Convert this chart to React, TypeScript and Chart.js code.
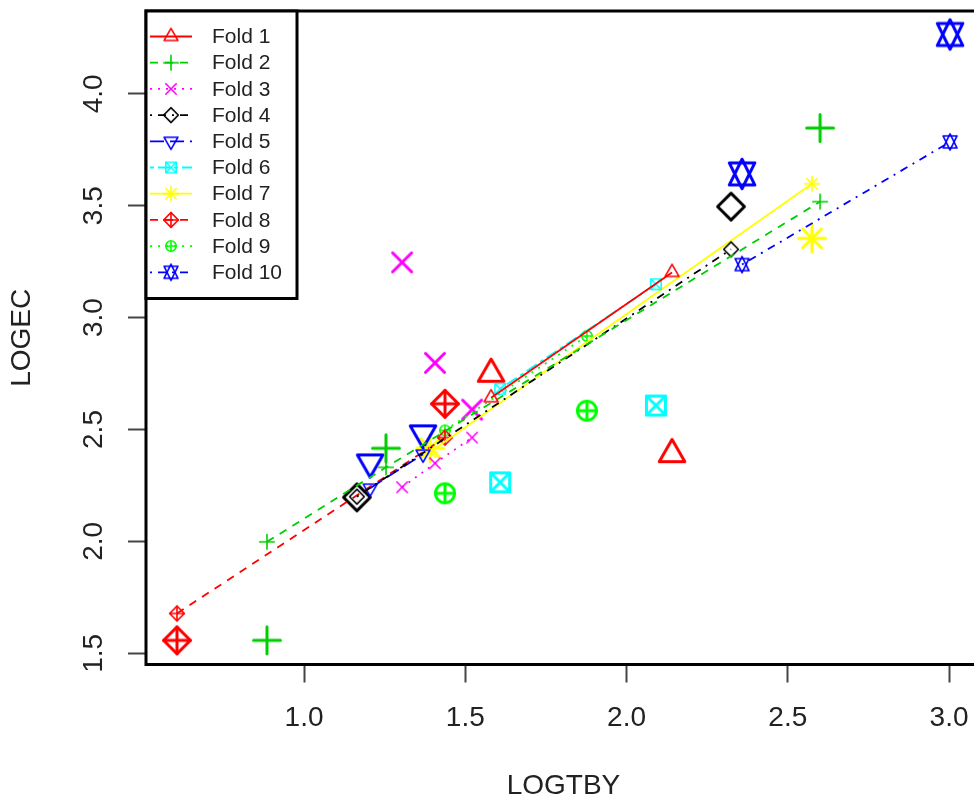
import React, { useEffect, useRef } from 'react';
import { Chart, registerables } from 'chart.js';

Chart.register(...registerables);

const FONT = '"Liberation Sans", Arial, Helvetica, sans-serif';

// ---- Data ----
const foldNames = ['Fold 1', 'Fold 2', 'Fold 3', 'Fold 4', 'Fold 5', 'Fold 6', 'Fold 7', 'Fold 8', 'Fold 9', 'Fold 10'];

// LOGTBY values of the points in each fold
const fold1X = [1.58, 2.141];
const fold2X = [0.885, 1.254, 2.6];
const fold3X = [1.304, 1.406, 1.521];
const fold4X = [1.164, 2.324];
const fold5X = [1.205, 1.369];
const fold6X = [1.608, 2.091];
const fold7X = [1.391, 2.575];
const fold8X = [0.606, 1.437];
const fold9X = [1.437, 1.877];
const fold10X = [2.358, 3.003];

// observed LOGEC (large symbols)
const fold1Obs = [2.749, 2.39];
const fold2Obs = [1.558, 2.416, 3.847];
const fold3Obs = [3.247, 2.798, 2.589];
const fold4Obs = [2.197, 3.496];
const fold5Obs = [2.353, 2.483];
const fold6Obs = [2.264, 2.607];
const fold7Obs = [2.416, 3.354];
const fold8Obs = [1.558, 2.615];
const fold9Obs = [2.215, 2.584];
const fold10Obs = [3.642, 4.265];

// fitted LOGEC (small symbols joined by lines)
const fold1Fit = [2.642, 3.202];
const fold2Fit = [1.998, 2.331, 3.518];
const fold3Fit = [2.242, 2.349, 2.464];
const fold4Fit = [2.2, 3.305];
const fold5Fit = [2.238, 2.39];
const fold6Fit = [2.682, 3.149];
const fold7Fit = [2.4, 3.598];
const fold8Fit = [1.678, 2.464];
const fold9Fit = [2.496, 2.918];
const fold10Fit = [3.237, 3.785];

const xTickValues = [1.0, 1.5, 2.0, 2.5, 3.0];
const yTickValues = [1.5, 2.0, 2.5, 3.0, 3.5, 4.0];

const foldX = [fold1X, fold2X, fold3X, fold4X, fold5X, fold6X, fold7X, fold8X, fold9X, fold10X];
const foldObs = [fold1Obs, fold2Obs, fold3Obs, fold4Obs, fold5Obs, fold6Obs, fold7Obs, fold8Obs, fold9Obs, fold10Obs];
const foldFit = [fold1Fit, fold2Fit, fold3Fit, fold4Fit, fold5Fit, fold6Fit, fold7Fit, fold8Fit, fold9Fit, fold10Fit];

// ---- Styles ----
const foldColors = ['#FF0000', '#00CD00', '#FF00FF', '#000000', '#0000FF', '#00FFFF', '#FFFF00', '#FF0000', '#00FF00', '#0000FF'];
const foldSymbols = ['triUp', 'plus', 'cross', 'diamond', 'triDown', 'squareX', 'asterisk', 'diamondPlus', 'circlePlus', 'davidStar'];
const DASHED = [8, 7];
const DOTTED = [2, 6];
const DOTDASH = [2, 6, 8, 6];
const LONGDASH = [14, 6];
const TWODASH = [4, 4, 12, 4];
const foldDashes: number[][] = [[], DASHED, DOTTED, DOTDASH, LONGDASH, TWODASH, [], DASHED, DOTTED, DOTDASH];

const TRC0 = Math.sqrt((4 * Math.PI) / (3 * Math.sqrt(3)));
const TRC1 = (TRC0 * Math.sqrt(3)) / 2;
const TRC2 = TRC0 / 2;
const SQ2 = Math.SQRT2;

function makeSymbol(sym: string, xc: number, lw: number, color: string): HTMLCanvasElement {
  const ext = Math.ceil(TRC0 * xc + lw + 2);
  const size = ext * 2;
  const cv = document.createElement('canvas');
  cv.width = size;
  cv.height = size;
  const g = cv.getContext('2d')!;
  const c = ext;
  g.strokeStyle = color;
  g.lineWidth = lw;
  g.lineCap = 'round';
  g.lineJoin = 'round';
  const line = (x1: number, y1: number, x2: number, y2: number) => {
    g.beginPath();
    g.moveTo(c + x1, c + y1);
    g.lineTo(c + x2, c + y2);
    g.stroke();
  };
  const poly = (pts: number[][]) => {
    g.beginPath();
    pts.forEach((p, i) => (i === 0 ? g.moveTo(c + p[0], c + p[1]) : g.lineTo(c + p[0], c + p[1])));
    g.closePath();
    g.stroke();
  };
  const r = TRC0 * xc;
  const yc = TRC2 * xc;
  const xw = TRC1 * xc;
  const h = SQ2 * xc;
  switch (sym) {
    case 'triUp':
      poly([[0, -r], [xw, yc], [-xw, yc]]);
      break;
    case 'triDown':
      poly([[0, r], [xw, -yc], [-xw, -yc]]);
      break;
    case 'plus':
      line(-h, 0, h, 0);
      line(0, -h, 0, h);
      break;
    case 'cross':
      line(-xc, -xc, xc, xc);
      line(-xc, xc, xc, -xc);
      break;
    case 'diamond':
      poly([[0, -h], [h, 0], [0, h], [-h, 0]]);
      break;
    case 'squareX':
      poly([[-xc, -xc], [xc, -xc], [xc, xc], [-xc, xc]]);
      line(-xc, -xc, xc, xc);
      line(-xc, xc, xc, -xc);
      break;
    case 'asterisk':
      line(-xc, -xc, xc, xc);
      line(-xc, xc, xc, -xc);
      line(-h, 0, h, 0);
      line(0, -h, 0, h);
      break;
    case 'diamondPlus':
      poly([[0, -h], [h, 0], [0, h], [-h, 0]]);
      line(-h, 0, h, 0);
      line(0, -h, 0, h);
      break;
    case 'circlePlus':
      g.beginPath();
      g.arc(c, c, xc, 0, Math.PI * 2);
      g.stroke();
      line(-xc, 0, xc, 0);
      line(0, -xc, 0, xc);
      break;
    case 'davidStar': {
      const y2 = 0.5 * (yc + r);
      poly([[0, -r], [xw, y2], [-xw, y2]]);
      poly([[0, r], [xw, -y2], [-xw, -y2]]);
      break;
    }
  }
  return cv;
}

const BIG_XC = 9.5;
const SMALL_XC = 5.2;

export default function App() {
  const canvasRef = useRef<HTMLCanvasElement | null>(null);

  useEffect(() => {
    const canvas = canvasRef.current;
    if (!canvas) return;

    const bigSyms = foldSymbols.map((s, i) => makeSymbol(s, BIG_XC, 3, foldColors[i]));
    const smallSyms = foldSymbols.map((s, i) => makeSymbol(s, SMALL_XC, 1.6, foldColors[i]));

    const lineSets: any[] = [];
    const pointSets: any[] = [];
    foldNames.forEach((name, i) => {
      lineSets.push({
        label: name + ' fitted',
        data: foldX[i].map((x, j) => ({ x, y: foldFit[i][j] })),
        showLine: true,
        borderColor: foldColors[i],
        backgroundColor: foldColors[i],
        borderWidth: 1.8,
        borderDash: foldDashes[i],
        pointStyle: smallSyms[i],
        pointRadius: 5,
        pointHoverRadius: 5,
        tension: 0,
        fill: false,
      });
      pointSets.push({
        label: name,
        data: foldX[i].map((x, j) => ({ x, y: foldObs[i][j] })),
        showLine: false,
        borderColor: foldColors[i],
        backgroundColor: foldColors[i],
        pointStyle: bigSyms[i],
        pointRadius: 10,
        pointHoverRadius: 10,
      });
    });

    const boxAndLegend = {
      id: 'boxAndLegend',
      afterDraw(chart: any) {
        const { ctx, chartArea } = chart;
        ctx.save();
        // plot frame
        ctx.strokeStyle = '#000';
        ctx.lineWidth = 3;
        ctx.strokeRect(chartArea.left, chartArea.top, chartArea.right - chartArea.left, chartArea.bottom - chartArea.top);
        // legend box
        const lx = chartArea.left;
        const ly = chartArea.top;
        const lw = 151;
        const lh = 287.5;
        ctx.fillStyle = '#fff';
        ctx.fillRect(lx, ly, lw, lh);
        ctx.strokeRect(lx, ly, lw, lh);
        const rowH = 26.2;
        const firstY = ly + 25.5;
        foldNames.forEach((name, i) => {
          const y = firstY + i * rowH;
          ctx.save();
          ctx.strokeStyle = foldColors[i];
          ctx.lineWidth = 1.8;
          ctx.setLineDash(foldDashes[i]);
          ctx.beginPath();
          ctx.moveTo(lx + 4, y);
          ctx.lineTo(lx + 46, y);
          ctx.stroke();
          ctx.restore();
          const s = smallSyms[i];
          ctx.drawImage(s, lx + 25 - s.width / 2, y - s.height / 2);
          ctx.fillStyle = '#222';
          ctx.font = '21px ' + FONT;
          ctx.textAlign = 'left';
          ctx.textBaseline = 'middle';
          ctx.fillText(name, lx + 66, y + 1);
        });
        ctx.restore();
      },
    };

    const tickFont = { family: FONT, size: 28 };

    const chart = new Chart(canvas, {
      type: 'scatter',
      data: { datasets: [...lineSets, ...pointSets] },
      options: {
        animation: false,
        responsive: false,
        devicePixelRatio: 1,
        events: [],
        layout: { padding: { left: 0, top: 8.5, right: 19, bottom: 0 } },
        plugins: { legend: { display: false }, tooltip: { enabled: false } },
        scales: {
          x: {
            type: 'linear',
            min: 0.51,
            max: 3.099,
            afterBuildTicks: (scale: any) => {
              scale.ticks = xTickValues.map((v) => ({ value: v }));
            },
            ticks: {
              autoSkip: false,
              maxRotation: 0,
              minRotation: 0,
              padding: 19,
              font: tickFont,
              color: '#222',
              callback: (v: any) => Number(v).toFixed(1),
            },
            grid: {
              display: true,
              drawOnChartArea: false,
              drawTicks: true,
              tickLength: 18,
              tickWidth: 2,
              tickColor: '#444',
            },
            border: { display: false },
            title: {
              display: true,
              text: 'LOGTBY',
              font: tickFont,
              color: '#222',
              padding: { top: 0, bottom: 2 },
            },
            afterFit: (s: any) => {
              s.height = 140.5;
              s.paddingLeft = 0;
              s.paddingRight = 0;
              s.paddingTop = 0;
              s.paddingBottom = 0;
            },
          },
          y: {
            type: 'linear',
            min: 1.45,
            max: 4.37,
            afterBuildTicks: (scale: any) => {
              scale.ticks = yTickValues.map((v) => ({ value: v }));
            },
            ticks: {
              autoSkip: false,
              minRotation: 90,
              maxRotation: 90,
              crossAlign: 'center',
              padding: 14.5,
              font: tickFont,
              color: '#222',
              callback: (v: any) => Number(v).toFixed(1),
            },
            grid: {
              display: true,
              drawOnChartArea: false,
              drawTicks: true,
              tickLength: 18,
              tickWidth: 2,
              tickColor: '#444',
            },
            border: { display: false },
            title: {
              display: true,
              text: 'LOGEC',
              font: tickFont,
              color: '#222',
              padding: { top: 5, bottom: 0 },
            },
            afterFit: (s: any) => {
              s.width = 146;
              s.paddingLeft = 0;
              s.paddingRight = 0;
              s.paddingTop = 0;
              s.paddingBottom = 0;
            },
          },
        },
      },
      plugins: [boxAndLegend],
    } as any);

    return () => chart.destroy();
  }, []);

  return (
    <div style={{ position: 'absolute', left: 0, top: 0, width: 974, height: 805, overflow: 'hidden', background: '#fff' }}>
      <canvas ref={canvasRef} width={1000} height={805} style={{ display: 'block' }} />
    </div>
  );
}
